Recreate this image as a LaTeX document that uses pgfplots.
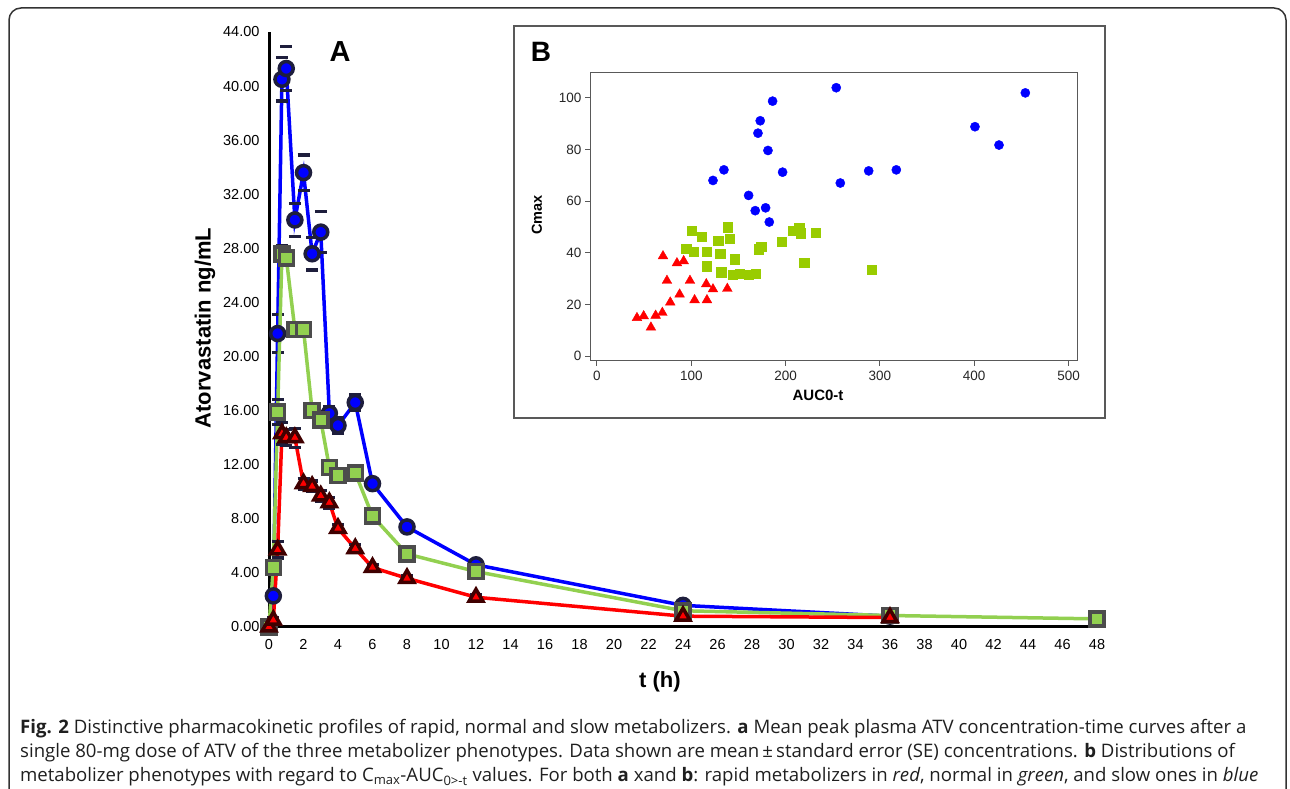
\documentclass[border=0pt]{standalone}
\usepackage{fontspec}
\setmainfont{Liberation Sans}
\newfontfamily\capfont{Open Sans}
\usepackage{pgfplots}
\usepackage{pgfplotstable}
\pgfplotsset{compat=1.18}

\definecolor{slowblue}{RGB}{0,0,255}
\definecolor{normgreen}{RGB}{146,208,80}
\definecolor{rapidred}{RGB}{255,0,0}
\definecolor{scatgreen}{RGB}{153,204,0}
\definecolor{capdark}{RGB}{30,30,60}

% t (h), mean concentration (ng/mL), SE
\pgfplotstableread{
t c e
0 0 0
0.25 2.3 0.2
0.5 21.7 1.4
0.75 40.5 1.6
1 41.3 1.6
1.5 30.1 1.2
2 33.6 1.3
2.5 27.6 1.2
3 29.2 1.5
3.5 15.8 0.5
4 14.9 0.6
5 16.6 0.6
6 10.6 0.3
8 7.4 0.2
12 4.6 0.2
24 1.6 0.2
36 0.8 0.1
}\slowtab

\pgfplotstableread{
t c e
0 0 0
0.25 4.4 0.3
0.5 15.9 0.9
0.75 27.6 0.6
1 27.3 0.5
1.5 22.0 0.4
2 22.0 0.4
2.5 16.0 0.3
3 15.3 0.3
3.5 11.8 0.3
4 11.2 0.3
5 11.4 0.3
6 8.2 0.3
8 5.4 0.3
12 4.1 0.3
24 1.2 0.2
36 0.85 0.1
48 0.6 0.1
}\normtab

\pgfplotstableread{
t c e
0 0 0
0.25 0.5 0.2
0.5 5.7 0.6
0.75 14.3 0.8
1 14.0 0.6
1.5 14.0 0.7
2 10.6 0.4
2.5 10.4 0.4
3 9.7 0.4
3.5 9.2 0.4
4 7.3 0.3
5 5.8 0.3
6 4.4 0.2
8 3.6 0.2
12 2.2 0.2
24 0.8 0.2
36 0.7 0.1
}\rapidtab

% AUC0-t, Cmax
\pgfplotstableread{
a c
253.7 103.9
186.2 98.7
173.1 91.1
170.7 86.3
181.3 79.6
196.8 71.2
134.6 72.1
123.0 68.0
258.0 67.0
160.8 62.2
167.8 56.3
178.8 57.4
182.7 51.9
454.2 101.9
400.8 88.8
426.3 81.7
288.1 71.7
317.4 72.1
}\slowscat

\pgfplotstableread{
a c
100.4 48.6
111.0 46.3
138.2 49.9
140.3 45.5
128.6 44.6
94.7 41.5
102.5 40.4
116.6 40.4
130.7 39.7
146.3 37.5
116.6 34.8
131.8 32.5
143.8 31.6
151.2 32.0
161.1 31.6
168.2 32.0
171.7 41.4
174.2 42.5
196.1 44.4
207.8 48.6
214.5 49.8
215.9 47.6
231.8 47.9
219.8 36.1
291.3 33.3
}\normscat

\pgfplotstableread{
a c
42.4 14.8
49.5 15.5
57.2 11.1
62.2 15.7
69.3 16.8
70.0 38.7
74.2 29.2
77.7 20.8
84.8 36.0
91.9 36.8
87.6 23.9
98.6 29.2
103.5 21.7
115.9 27.9
116.6 21.7
123.0 25.9
138.2 26.1
}\rapidscat

% SE caps only, no vertical bar
\pgfplotsset{
  pk line/.style={line width=3.5pt, mark options={solid, line width=0.8pt}},
  pk err/.style={
    error bars/.cd, y dir=both, y explicit,
    draw error bar/.code 2 args={%
      \draw[capdark, line width=3.2pt] ##2 ++(-6pt,0pt) -- ++(12pt,0pt);%
    },
  },
}

\begin{document}
\begin{tikzpicture}[x=1pt,y=1pt]
\useasboundingbox (0,0) rectangle (1290,789);
\draw[rounded corners=12pt, line width=1.5pt, black!80] (9,-30) rectangle (1286,781);

\begin{axis}[
  at={(269pt,162pt)}, anchor=south west,
  scale only axis, width=828pt, height=595pt,
  xmin=0, xmax=48, ymin=0, ymax=44,
  axis lines*=left,
  axis line style={line width=3pt, -},
  xtick={0,2,...,48}, ytick={0,4,...,44},
  major tick length=0pt,
  tick label style={font=\fontsize{14.5}{14.5}\selectfont},
  /pgf/number format/assume math mode=true,
  yticklabel style={xshift=-6pt, /pgf/number format/fixed,
    /pgf/number format/fixed zerofill, /pgf/number format/precision=2},
  xticklabel style={yshift=-9pt},
  clip=false,
]
\addplot[pk line, slowblue, mark=*, mark size=7pt,
  mark options={fill=slowblue, draw=capdark}, pk err]
  table[x=t, y=c, y error=e] {\slowtab};
\addplot[pk line, normgreen, mark=square*, mark size=7pt,
  mark options={fill=normgreen, draw=black!70}, pk err]
  table[x=t, y=c, y error=e] {\normtab};
\addplot[pk line, rapidred, mark=triangle*, mark size=8pt,
  mark options={fill=rapidred, draw=black!75!red}, pk err]
  table[x=t, y=c, y error=e] {\rapidtab};
\end{axis}

\node[font=\bfseries\fontsize{22}{22}\selectfont, rotate=90] at (205,461) {Atorvastatin ng/mL};
\node[font=\bfseries\fontsize{22}{22}\selectfont] at (660,107) {t (h)};
\node[font=\bfseries\fontsize{29}{29}\selectfont] at (340,737) {A};

\draw[black!65, line width=1.2pt, fill=white] (514,371) rectangle (1105,763);
\begin{axis}[
  at={(590pt,428pt)}, anchor=south west,
  scale only axis, width=487pt, height=288pt,
  xmin=-7.4, xmax=509, ymin=-1.9, ymax=109.6,
  axis line style={black!65, line width=1pt},
  xtick={0,100,...,500}, ytick={0,20,...,100},
  xtick pos=bottom, ytick pos=left,
  tick align=outside, major tick length=5pt,
  tick style={black!65, line width=1pt},
  tick label style={font=\fontsize{13.5}{13.5}\selectfont, text=black!85},
  xticklabel style={yshift=-2pt},
  /pgf/number format/assume math mode=true,
  clip=false,
]
\addplot[only marks, mark=*, mark size=4.6pt, mark options={fill=slowblue, draw=slowblue}]
  table[x=a, y=c] {\slowscat};
\addplot[only marks, mark=square*, mark size=4.6pt, mark options={fill=scatgreen, draw=scatgreen}]
  table[x=a, y=c] {\normscat};
\addplot[only marks, mark=triangle*, mark size=5.6pt, mark options={fill=rapidred, draw=rapidred}]
  table[x=a, y=c] {\rapidscat};
\end{axis}
\node[font=\bfseries\fontsize{28}{28}\selectfont] at (541,737) {B};
\node[font=\bfseries\fontsize{14.5}{14.5}\selectfont, rotate=90] at (537,574) {Cmax};
\node[font=\bfseries\fontsize{15}{15}\selectfont] at (818,394) {AUC0-t};

\begin{scope}[every node/.style={anchor=base west, inner sep=0pt,
    font=\capfont\fontsize{18.6}{18.6}\selectfont, text=black!88}]
\node at (20,55) {\textbf{Fig. 2} Distinctive pharmacokinetic profiles of rapid, normal and slow metabolizers. \textbf{a} Mean peak plasma ATV concentration-time curves after a};
\node at (20,31) {single 80-mg dose of ATV of the three metabolizer phenotypes. Data shown are mean\,±\,standard error (SE) concentrations. \textbf{b} Distributions of};
\node at (20,7) {metabolizer phenotypes with regard to C\textsubscript{max}-AUC\textsubscript{0>-t} values. For both \textbf{a} xand \textbf{b}: rapid metabolizers in \textit{red}, normal in \textit{green}, and slow ones in \textit{blue}};
\end{scope}
\end{tikzpicture}
\end{document}
